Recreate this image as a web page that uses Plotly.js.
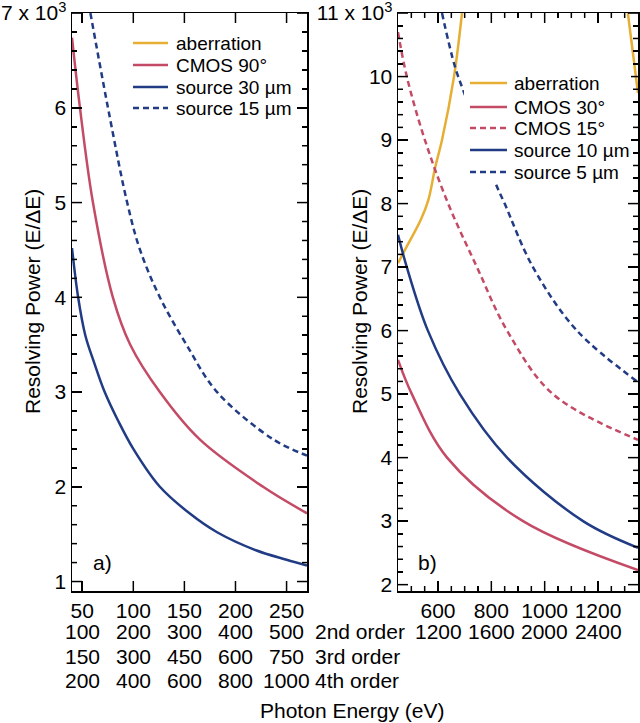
<!DOCTYPE html>
<html>
<head>
<meta charset="utf-8">
<script src="https://cdn.plot.ly/plotly-3.0.1.min.js"></script>
<style>html,body{margin:0;padding:0;background:#fff;}#chart{width:640px;height:723px;}</style>
</head>
<body>
<div id="chart"></div>
<script>
// ---------- data: panel a) ----------
const cmos90X = [40, 47.8, 60.5, 80, 97, 126, 165, 227, 270];
const cmos90Y = [6.74, 6.0, 5.0, 4.0, 3.5, 3.0, 2.5, 2.0, 1.72];
const src30X = [40, 46, 53, 62, 72, 85, 100, 126, 155, 182, 220, 250, 270];
const src30Y = [4.52, 4.0, 3.6, 3.3, 3.0, 2.7, 2.4, 2.0, 1.72, 1.52, 1.33, 1.23, 1.17];
const src15X = [58, 77, 94, 106.6, 126, 152, 182, 237, 270];
const src15Y = [7.0, 5.9, 5.0, 4.5, 4.0, 3.5, 3.0, 2.5, 2.33];

// ---------- data: panel b) ----------
const aberrX = [450, 476, 535, 564, 590, 615, 660, 690, null, 1312, 1350];
const aberrY = [7.06, 7.27, 7.74, 8.06, 8.58, 9.0, 10.0, 11.0, null, 11.0, 9.74];
const cmos30X = [450, 502, 634, 919, 1350];
const cmos30Y = [5.54, 5.0, 4.0, 3.0, 2.23];
const cmos15X = [450, 483, 551, 638, 746, 859, 1031, 1350];
const cmos15Y = [10.7, 10.0, 9.0, 8.0, 7.0, 6.0, 5.0, 4.28];
const src10X = [450, 483, 562, 682, 859, 1144, 1350];
const src10Y = [7.51, 7.0, 6.0, 5.0, 4.0, 3.0, 2.58];
const src5X = [615, 664, 708, 814, 850, 956, 1121, 1350];
const src5Y = [11.0, 10.15, 9.63, 8.34, 8.0, 7.0, 6.0, 5.19];

// ---------- tick labels ----------
const xTicksL = [50, 100, 150, 200, 250];
const order2L = ['100', '200', '300', '400', '500'];
const order3L = ['150', '300', '450', '600', '750'];
const order4L = ['200', '400', '600', '800', '1000'];
const xTicksR = [600, 800, 1000, 1200];
const order2R = ['1200', '1600', '2000', '2400'];
const orderNames = ['2nd order', '3rd order', '4th order'];
const yTopAliasL = {'7': '7 x 10<sup>3</sup>'};
const yTopAliasR = {'11': '11 x 10<sup>3</sup>'};

const GOLD = '#E6AE33', RED = '#C44B66', NAVY = '#213C84';
const FONT = 'Liberation Sans, Arial, sans-serif';
const W = 640, H = 723;
const px = v => v / W, py = v => 1 - v / H;

function tr(name, x, y, color, dash, xa, ya) {
  return {type: 'scatter', mode: 'lines', name: name, x: x, y: y, xaxis: xa, yaxis: ya,
    line: {color: color, width: 2.5, dash: dash, shape: 'spline', smoothing: 1},
    connectgaps: false, showlegend: false, hoverinfo: 'skip'};
}
const DASH = '6px,4px';
const tracesA = [
  tr('aberration', [], [], GOLD, 'solid', 'x', 'y'),
  tr('CMOS 90°', cmos90X, cmos90Y, RED, 'solid', 'x', 'y'),
  tr('source 30 µm', src30X, src30Y, NAVY, 'solid', 'x', 'y'),
  tr('source 15 µm', src15X, src15Y, NAVY, DASH, 'x', 'y')
];
const tracesB = [
  tr('aberration', aberrX, aberrY, GOLD, 'solid', 'x2', 'y2'),
  tr('CMOS 30°', cmos30X, cmos30Y, RED, 'solid', 'x2', 'y2'),
  tr('CMOS 15°', cmos15X, cmos15Y, RED, DASH, 'x2', 'y2'),
  tr('source 10 µm', src10X, src10Y, NAVY, 'solid', 'x2', 'y2'),
  tr('source 5 µm', src5X, src5Y, NAVY, DASH, 'x2', 'y2')
];

const tickFont = {family: FONT, size: 21, color: '#000'};
const minorY = {ticks: 'inside', ticklen: 5, tickwidth: 1.5, tickcolor: '#000', dtick: 0.2, tick0: 0, showgrid: false};
const common = {showline: true, linecolor: '#000', linewidth: 1.5, mirror: 'allticks',
  ticks: 'inside', ticklen: 10, tickwidth: 1.5, tickcolor: '#000', showgrid: false,
  zeroline: false, tickfont: tickFont, fixedrange: true, tickmode: 'linear', ticklabeloverflow: 'allow'};

const L = {x0: 72, x1: 307}, R = {x0: 398, x1: 638}, TOP = 13, BOT = 591;
const yDom = [py(BOT), py(TOP)];
const layout = {
  width: W, height: H, margin: {l: 0, r: 0, t: 0, b: 0},
  paper_bgcolor: '#fff', plot_bgcolor: '#fff',
  xaxis: Object.assign({}, common, {domain: [px(L.x0), px(L.x1)], range: [40, 270], anchor: 'y',
    tick0: xTicksL[0], dtick: xTicksL[1] - xTicksL[0]}),
  yaxis: Object.assign({}, common, {domain: yDom, range: [0.9, 7.001], anchor: 'x',
    tick0: 0, dtick: 1, labelalias: yTopAliasL, minor: minorY}),
  xaxis2: Object.assign({}, common, {domain: [px(R.x0), px(R.x1)], range: [450, 1350], anchor: 'y2',
    tick0: xTicksR[0], dtick: xTicksR[1] - xTicksR[0],
    minor: {ticks: 'inside', ticklen: 5, tickwidth: 1.5, tickcolor: '#000', dtick: 50, tick0: 0, showgrid: false}}),
  yaxis2: Object.assign({}, common, {domain: yDom, range: [1.9, 11.001], anchor: 'x2',
    tick0: 0, dtick: 1, labelalias: yTopAliasR, minor: minorY}),
  shapes: [], annotations: []
};

// tick marks (inside, mirrored) placed through the axes' own scales
const tickLine = {color: '#000', width: 1.5};
function xTick(xa, v, len) {
  layout.shapes.push({type: 'line', xref: xa, yref: 'paper', x0: v, x1: v, y0: py(BOT), y1: py(BOT - len), line: tickLine, layer: 'above'});
  layout.shapes.push({type: 'line', xref: xa, yref: 'paper', x0: v, x1: v, y0: py(TOP), y1: py(TOP + len), line: tickLine, layer: 'above'});
}
function yTick(ya, p, v, len) {
  layout.shapes.push({type: 'line', xref: 'paper', yref: ya, x0: px(p.x0), x1: px(p.x0 + len), y0: v, y1: v, line: tickLine, layer: 'above'});
  layout.shapes.push({type: 'line', xref: 'paper', yref: ya, x0: px(p.x1), x1: px(p.x1 - len), y0: v, y1: v, line: tickLine, layer: 'above'});
}
xTicksL.forEach(v => xTick('x', v, 10));
for (let v = 500; v <= 1300; v += 50) xTick('x2', v, (v % 200 === 0) ? 10 : 5);
for (let k = 10; k <= 70; k += 2) yTick('y', L, k / 10, (k % 10 === 0) ? 10 : 5);
for (let k = 20; k <= 110; k += 2) yTick('y2', R, k / 10, (k % 10 === 0) ? 10 : 5);

const ann = (o) => Object.assign({showarrow: false, font: {family: FONT, size: 21, color: '#000'}}, o);

const rowY = [631, 656, 680];
[order2L, order3L, order4L].forEach((row, r) => {
  row.forEach((t, i) => layout.annotations.push(ann({xref: 'x', yref: 'paper', x: xTicksL[i], y: py(rowY[r]), text: t, xanchor: 'center', yanchor: 'middle'})));
  layout.annotations.push(ann({xref: 'paper', yref: 'paper', x: px(313), y: py(rowY[r]), text: orderNames[r], xanchor: 'left', yanchor: 'middle'}));
});
order2R.forEach((t, i) => layout.annotations.push(ann({xref: 'x2', yref: 'paper', x: xTicksR[i], y: py(rowY[0]), text: t, xanchor: 'center', yanchor: 'middle'})));

layout.annotations.push(ann({xref: 'paper', yref: 'paper', x: px(352), y: py(710), text: 'Photon Energy (eV)', xanchor: 'center', yanchor: 'middle'}));
layout.annotations.push(ann({xref: 'paper', yref: 'paper', x: px(32), y: py(302), text: 'Resolving Power (E/ΔE)', textangle: -90, xanchor: 'center', yanchor: 'middle'}));
layout.annotations.push(ann({xref: 'paper', yref: 'paper', x: px(359), y: py(302), text: 'Resolving Power (E/ΔE)', textangle: -90, xanchor: 'center', yanchor: 'middle'}));
layout.annotations.push(ann({xref: 'paper', yref: 'paper', x: px(91), y: py(562), text: 'a)', xanchor: 'left', yanchor: 'middle'}));
layout.annotations.push(ann({xref: 'paper', yref: 'paper', x: px(416), y: py(562), text: 'b)', xanchor: 'left', yanchor: 'middle'}));

function legend(traces, x0, x1, xt, rows, box) {
  if (box) layout.shapes.push({type: 'rect', xref: 'paper', yref: 'paper', x0: px(box[0]), x1: px(box[1]), y0: py(box[3]), y1: py(box[2]), fillcolor: '#fff', line: {width: 0}, layer: 'above'});
  traces.forEach((t, i) => {
    layout.shapes.push({type: 'line', xref: 'paper', yref: 'paper', x0: px(x0), x1: px(x1), y0: py(rows[i]), y1: py(rows[i]),
      line: {color: t.line.color, width: 2.5, dash: t.line.dash}, layer: 'above'});
    layout.annotations.push(ann({xref: 'paper', yref: 'paper', x: px(xt), y: py(rows[i]), text: t.name, xanchor: 'left', yanchor: 'middle', font: {family: FONT, size: 19, color: '#000'}}));
  });
}
legend(tracesA, 133, 168, 174, [43, 65, 87, 108], null);
legend(tracesB, 470, 507, 512, [83, 107, 128, 150, 172], [464, 631, 71, 184]);

Plotly.newPlot('chart', tracesA.concat(tracesB), layout, {staticPlot: true});
</script>
</body>
</html>
